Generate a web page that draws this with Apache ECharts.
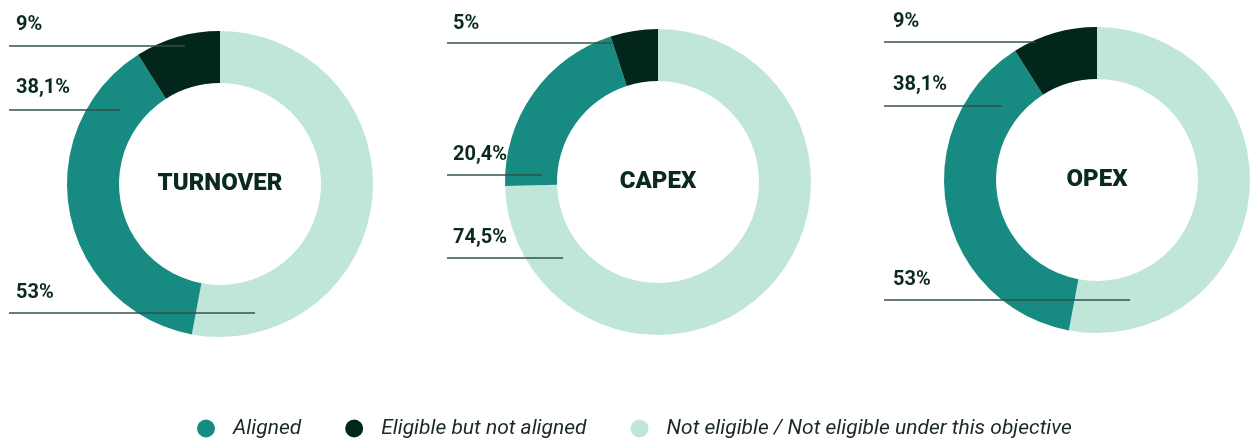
<!DOCTYPE html>
<html>
<head>
<meta charset="utf-8">
<script src="https://cdn.jsdelivr.net/npm/echarts@6/dist/echarts.min.js"></script>
<style>
html,body{margin:0;padding:0;background:#fff;}
#main{width:1250px;height:438px;}
</style>
</head>
<body>
<div id="main"></div>
<script>
// ---- data ----
const categories = ['Aligned', 'Eligible but not aligned', 'Not eligible / Not eligible under this objective'];
const chartNames = ['TURNOVER', 'CAPEX', 'OPEX'];
const turnoverValues = [38.1, 9, 53];
const capexValues = [20.4, 5, 74.5];
const opexValues = [38.1, 9, 53];
const seriesValues = [turnoverValues, capexValues, opexValues];

// ---- style / layout ----
const colors = ['#178a82', '#03261c', '#c0e6da'];
const textColor = '#0a2a1f';
const lineColor = '#34504a';
const centers = [[220, 184], [658, 182], [1097, 180]];
const radius = [101, 153];
// drawing order clockwise from 12 o'clock: Not eligible, Aligned, Eligible
const drawOrder = [2, 0, 1];
// label layout per chart, keyed by category index: [textX, textY, lineY, lineX0, lineX1]
const labelSpots = [
  { 0: [16, 88, 110, 9, 120], 1: [16, 25, 46, 9, 185], 2: [16, 293, 313, 9, 255] },
  { 0: [453, 155, 175, 447, 542], 1: [453, 24, 43, 447, 612], 2: [453, 238, 258, 447, 563] },
  { 0: [893, 85, 106, 884, 1002], 1: [893, 22, 42, 884, 1035], 2: [893, 280, 300, 884, 1130] }
];

function fmt(v) { return String(v).replace('.', ',') + '%'; }

function makeData(vals, transparent) {
  return drawOrder.map(ci => ({
    name: categories[ci], value: vals[ci],
    itemStyle: { color: transparent ? 'rgba(0,0,0,0)' : colors[ci] }
  }));
}

const series = [];
// ring sectors
seriesValues.forEach((vals, si) => {
  series.push({
    type: 'pie',
    name: chartNames[si],
    center: centers[si],
    radius: radius,
    startAngle: 90,
    clockwise: true,
    silent: true,
    animation: false,
    z: 2,
    emphasis: { disabled: true },
    avoidLabelOverlap: false,
    data: makeData(vals, false),
    label: { show: false },
    labelLine: { show: false }
  });
});
// labels with leader lines, drawn above the rings
seriesValues.forEach((vals, si) => {
  series.push({
    type: 'pie',
    name: chartNames[si] + ' labels',
    center: centers[si],
    radius: radius,
    startAngle: 90,
    clockwise: true,
    silent: true,
    animation: false,
    z: 5,
    legendHoverLink: false,
    emphasis: { disabled: true },
    avoidLabelOverlap: false,
    data: makeData(vals, true),
    label: {
      show: true,
      position: 'outside',
      formatter: p => fmt(p.value),
      fontFamily: 'Roboto',
      fontWeight: 'bold',
      fontSize: 20,
      color: textColor
    },
    labelLine: { show: true, lineStyle: { color: lineColor, width: 1.3 } },
    labelLayout: function (params) {
      const ci = drawOrder[params.dataIndex];
      const s = labelSpots[si][ci];
      return {
        x: s[0], y: s[1], align: 'left', verticalAlign: 'middle',
        labelLinePoints: [[s[4], s[2]], [s[3] + 1, s[2]], [s[3], s[2]]]
      };
    }
  });
});

const chart = echarts.init(document.getElementById('main'), null, { renderer: 'canvas' });
chart.setOption({
  backgroundColor: '#ffffff',
  animation: false,
  color: colors,
  title: chartNames.map((n, i) => ({
    text: n,
    left: centers[i][0],
    top: centers[i][1],
    padding: 0,
    textAlign: 'center',
    textVerticalAlign: 'middle',
    textStyle: { fontFamily: 'Roboto', fontWeight: 900, fontSize: 24, color: textColor }
  })),
  legend: {
    data: categories.map((c, i) => ({ name: c, itemStyle: { color: colors[i] } })),
    left: 192,
    top: 413,
    icon: 'circle',
    itemWidth: 18,
    itemHeight: 18,
    itemGap: 44,
    selectedMode: false,
    textStyle: { fontFamily: 'Roboto', fontStyle: 'italic', fontSize: 21, color: '#1a2925', padding: [0, 0, 0, 13] }
  },
  series: series
});
</script>
</body>
</html>
